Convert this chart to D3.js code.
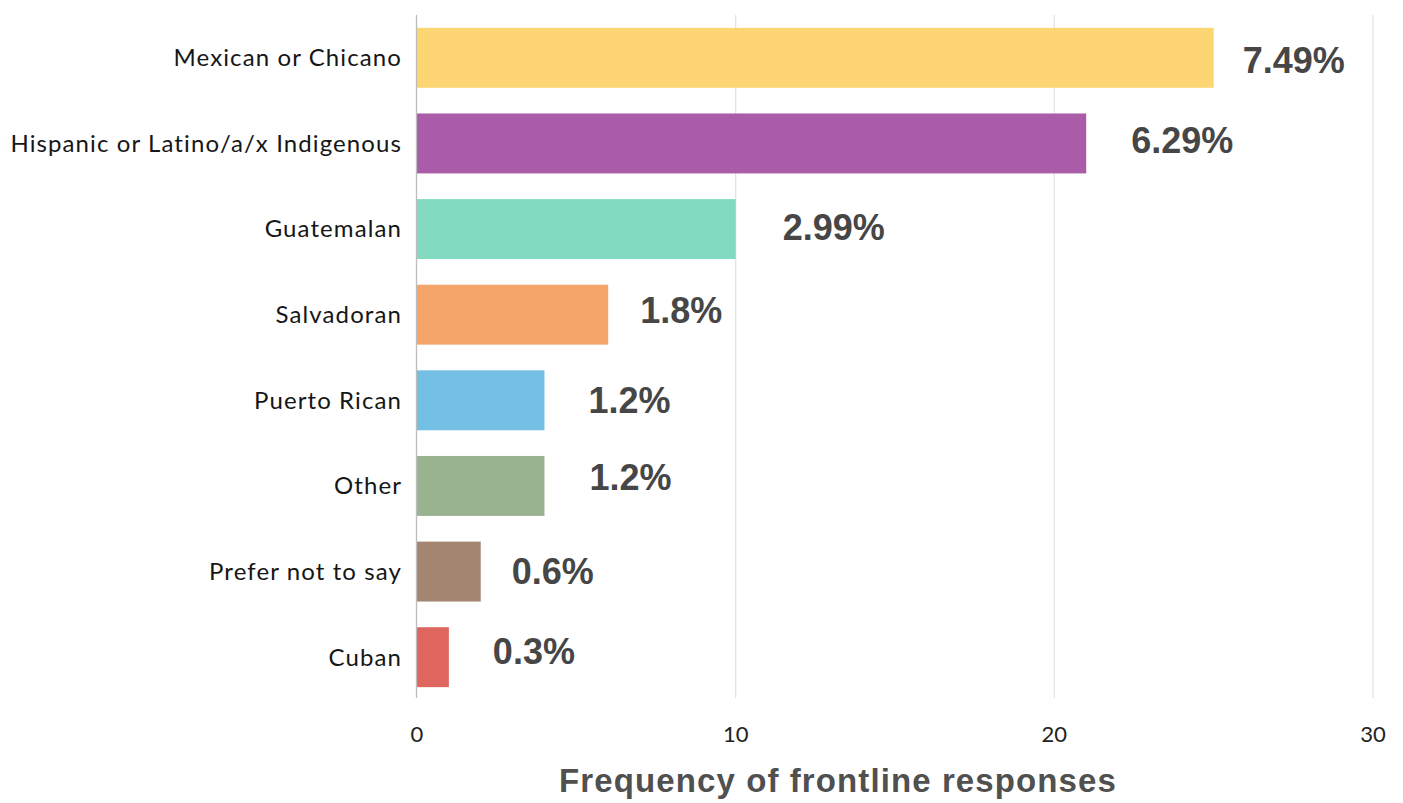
<!DOCTYPE html>
<html>
<head>
<meta charset="utf-8">
<script src="https://cdn.jsdelivr.net/npm/d3@7"></script>
<style>
html,body{margin:0;padding:0;background:#fff;}
svg{display:block;}
</style>
</head>
<body>
<svg id="chart" width="1403" height="803"></svg>
<script>
const categories = ["Mexican or Chicano","Hispanic or Latino/a/x Indigenous","Guatemalan","Salvadoran","Puerto Rican","Other","Prefer not to say","Cuban"];
const frequencies = [25, 21, 10, 6, 4, 4, 2, 1];
const percentLabels = ["7.49%","6.29%","2.99%","1.8%","1.2%","1.2%","0.6%","0.3%"];
const barColors = ["#FDD36B","#A653A4","#7BD9BE","#F5A062","#6BBDE3","#94AF8A","#A0806A","#DD5D56"];
const xTicks = [0, 10, 20, 30];
const axisTitle = "Frequency of frontline responses";

// layout constants (not data): manual offsets of the value labels
const labelDx = [29, 45, 47, 32, 44, 45, 31, 44];
const labelDy = [2, -3, -2, -5, 0, -9, -1, -6];

const svg = d3.select("#chart");
const x = d3.scaleLinear().domain([0, 30]).range([417, 1373]);
const y = d3.scaleBand().domain(categories).range([15, 700]).paddingInner(0.3).paddingOuter(0.15);

// gridlines
svg.append("g").selectAll("line").data(xTicks.filter(t => t > 0)).join("line")
  .attr("x1", d => x(d)).attr("x2", d => x(d))
  .attr("y1", 15).attr("y2", 698)
  .attr("stroke", "#e2e2e2").attr("stroke-width", 1.2);

// bars
svg.append("g").selectAll("rect").data(categories).join("rect")
  .attr("x", x(0))
  .attr("y", d => y(d))
  .attr("width", (d, i) => x(frequencies[i]) - x(0))
  .attr("height", y.bandwidth())
  .attr("fill", (d, i) => barColors[i])
  .attr("opacity", 0.95);

// y axis line
svg.append("line")
  .attr("x1", x(0) - 0.5).attr("x2", x(0) - 0.5)
  .attr("y1", 15).attr("y2", 698)
  .attr("stroke", "#bdbdbd").attr("stroke-width", 1.3);

// category labels
svg.append("g").selectAll("text").data(categories).join("text")
  .attr("x", 402)
  .attr("y", d => y(d) + y.bandwidth() / 2)
  .attr("dy", "0.35em")
  .attr("text-anchor", "end")
  .attr("font-family", "Lato, 'Noto Sans', sans-serif")
  .attr("font-size", 24)
  .attr("letter-spacing", 1.1)
  .attr("fill", "#161616")
  .text(d => d);

// value labels
svg.append("g").selectAll("text").data(categories).join("text")
  .attr("x", (d, i) => x(frequencies[i]) + labelDx[i])
  .attr("y", (d, i) => y(d) + y.bandwidth() / 2 + labelDy[i])
  .attr("dy", "0.36em")
  .attr("text-anchor", "start")
  .attr("font-family", "'Liberation Sans', Arial, sans-serif")
  .attr("font-weight", "bold")
  .attr("font-size", 36)
  .attr("fill", "#464646")
  .text((d, i) => percentLabels[i]);

// x tick labels
svg.append("g").selectAll("text").data(xTicks).join("text")
  .attr("x", d => x(d))
  .attr("y", 734)
  .attr("dy", "0.35em")
  .attr("text-anchor", "middle")
  .attr("font-family", "Lato, 'Noto Sans', sans-serif")
  .attr("font-size", 22)
  .attr("fill", "#222")
  .text(d => d);

// axis title
svg.append("text")
  .attr("x", 838)
  .attr("y", 780)
  .attr("dy", "0.35em")
  .attr("text-anchor", "middle")
  .attr("font-family", "'Liberation Sans', Arial, sans-serif")
  .attr("font-weight", "bold")
  .attr("font-size", 33)
  .attr("letter-spacing", 1.1)
  .attr("fill", "#505050")
  .text(axisTitle);
</script>
</body>
</html>
